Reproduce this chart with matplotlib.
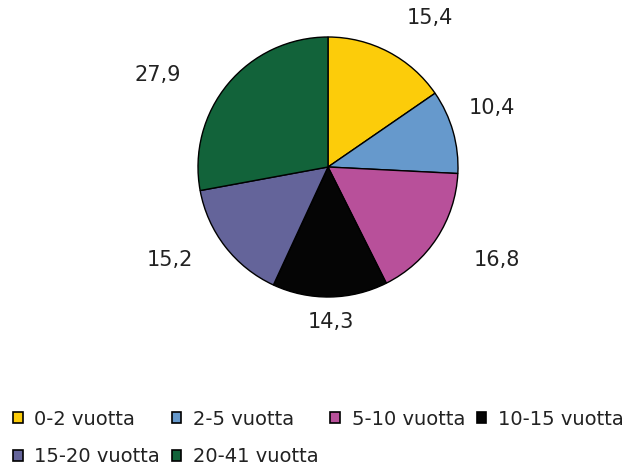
import numpy as np
import matplotlib
matplotlib.use("Agg")
import matplotlib.pyplot as plt

categories = ["0-2 vuotta", "2-5 vuotta", "5-10 vuotta", "10-15 vuotta",
              "15-20 vuotta", "20-41 vuotta"]
values = [15.4, 10.4, 16.8, 14.3, 15.2, 27.9]
colors = ["#FCCC0A", "#6699CC", "#B8509A", "#050505", "#64649A", "#12633A"]

# label placement around the pie (radius factor, angle tweak in degrees)
label_r = [1.39, 1.34, 1.48, 1.19, 1.41, 1.49]
label_dang = [-6.7, 4.0, 4.3, 0.0, -7.3, 11.4]

plt.rcParams["font.family"] = ["DejaVu Sans"]

W, H = 629, 468
fig = plt.figure(figsize=(W / 100, H / 100), dpi=100)
ax = fig.add_axes([0, 0, 1, 1])

cx, cy, R = 328, H - 167, 130
wedges, _ = ax.pie(values, colors=colors, startangle=90, counterclock=False,
                   center=(cx, cy), radius=R,
                   wedgeprops=dict(edgecolor="black", linewidth=1.0))

for w, v, rf, da in zip(wedges, values, label_r, label_dang):
    ang = np.deg2rad((w.theta1 + w.theta2) / 2 + da)
    ax.text(cx + rf * R * np.cos(ang), cy + rf * R * np.sin(ang),
            f"{v:.1f}".replace(".", ","), ha="center", va="center",
            fontsize=15, color="#222222")

ax.set_xlim(0, W)
ax.set_ylim(0, H)
ax.set_aspect("equal")
ax.axis("off")

# legend fills row by row: reorder for matplotlib's column-first layout
order = [0, 4, 1, 5, 2, 3]
leg = fig.legend([wedges[i] for i in order], [categories[i] for i in order],
                 ncol=4, loc="upper left",
                 bbox_to_anchor=(0.008, 1 - 402 / H), frameon=False,
                 fontsize=14, handlelength=0.5, handleheight=0.5,
                 handletextpad=0.6, columnspacing=0.6, labelspacing=0.95,
                 borderaxespad=0)
for h in leg.legend_handles:
    h.set_linewidth(1.2)
for t in leg.get_texts():
    t.set_color("#222222")

fig.savefig("out.png", dpi=100)
